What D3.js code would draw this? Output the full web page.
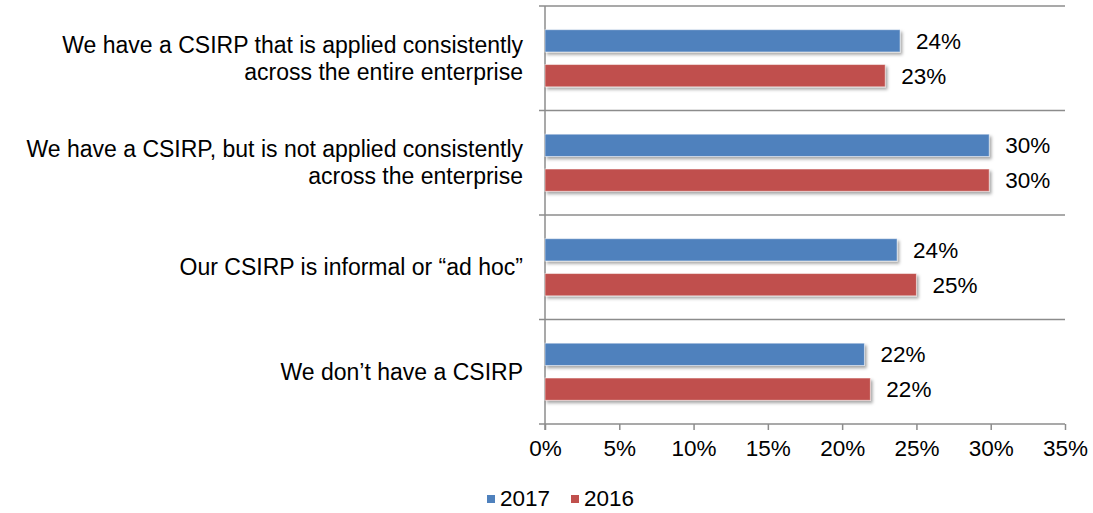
<!DOCTYPE html>
<html>
<head>
<meta charset="utf-8">
<script src="https://cdn.jsdelivr.net/npm/d3@7"></script>
<style>
  html, body { margin: 0; padding: 0; background: #fff; }
  svg { display: block; font-family: "Liberation Sans", Arial, sans-serif; }
</style>
</head>
<body>
<svg id="chart" width="1093" height="513"></svg>
<script>
// Survey responses: incident response plan maturity, 2017 vs 2016
const categories = [
  "We have a CSIRP that is applied consistently\nacross the entire enterprise",
  "We have a CSIRP, but is not applied consistently\nacross the enterprise",
  "Our CSIRP is informal or \u201cad hoc\u201d",
  "We don\u2019t have a CSIRP"
];
const values2017 = [23.9, 29.9, 23.7, 21.5];
const values2016 = [22.9, 29.9, 25.0, 21.9];
const seriesNames = ["2017", "2016"];
const xTicks = [0, 5, 10, 15, 20, 25, 30, 35];

const colors = { "2017": "#4F81BD", "2016": "#C0504D" };
const numSize = 22.5;
const catSize = 23;

const svg = d3.select("#chart");

const plot = { left: 545, right: 1065, top: 6, bottom: 424 };

const x = d3.scaleLinear().domain([0, 35]).range([plot.left, plot.right]);
const y = d3.scaleBand().domain(categories).range([plot.top, plot.bottom]);
const inner = d3.scaleBand().domain(seriesNames)
  .range([0, y.bandwidth()]).paddingInner(0.36).paddingOuter(0.68);

// soft drop shadow under the bars
const defs = svg.append("defs");
const f = defs.append("filter").attr("id", "shadow")
  .attr("x", "-5%").attr("y", "-30%").attr("width", "115%").attr("height", "180%");
f.append("feDropShadow").attr("dx", 2).attr("dy", 2.5)
  .attr("stdDeviation", 1.5).attr("flood-color", "#000").attr("flood-opacity", 0.35);

const gridColor = "#8c8c8c";

// category separators across the plot
const bounds = categories.map(c => y(c));
svg.append("g").selectAll("line").data(bounds).join("line")
  .attr("x1", plot.left - 6).attr("x2", plot.right)
  .attr("y1", d => d).attr("y2", d => d)
  .attr("stroke", gridColor).attr("stroke-width", 1.5);

// value axis
const xAxis = d3.axisBottom(x).tickValues(xTicks)
  .tickFormat(d => d + "%").tickSizeInner(6).tickSizeOuter(0).tickPadding(10);
const gx = svg.append("g").attr("transform", `translate(0,${plot.bottom})`).call(xAxis);
gx.select(".domain").attr("stroke", gridColor).attr("stroke-width", 1.5)
  .attr("d", `M${plot.left - 6},0H${plot.right}`);
gx.selectAll(".tick line").attr("stroke", gridColor).attr("stroke-width", 1.5);
gx.selectAll(".tick text").attr("fill", "#000").attr("font-size", numSize)
  .attr("font-family", "Liberation Sans, Arial, sans-serif");

// category axis line
svg.append("line")
  .attr("x1", plot.left).attr("x2", plot.left)
  .attr("y1", plot.top).attr("y2", plot.bottom + 6)
  .attr("stroke", gridColor).attr("stroke-width", 1.5);

// bars
const rows = categories.map((c, i) => ({
  cat: c,
  items: [
    { s: "2017", v: values2017[i] },
    { s: "2016", v: values2016[i] }
  ]
}));

const groups = svg.append("g").selectAll("g").data(rows).join("g")
  .attr("transform", d => `translate(0,${y(d.cat)})`);

groups.selectAll("rect").data(d => d.items).join("rect")
  .attr("x", x(0))
  .attr("y", d => inner(d.s))
  .attr("width", d => x(d.v) - x(0))
  .attr("height", inner.bandwidth())
  .attr("fill", d => colors[d.s])
  .attr("stroke", "#ffffff").attr("stroke-opacity", 0.5).attr("stroke-width", 1)
  .attr("filter", "url(#shadow)");

groups.selectAll("text.val").data(d => d.items).join("text")
  .attr("class", "val")
  .attr("x", d => x(d.v) + 16)
  .attr("y", d => inner(d.s) + inner.bandwidth() / 2)
  .attr("dy", "0.35em")
  .attr("font-size", numSize)
  .attr("fill", "#000")
  .text(d => Math.round(d.v) + "%");

// category labels
const labels = svg.append("g").selectAll("text").data(categories).join("text")
  .attr("text-anchor", "end")
  .attr("font-size", catSize)
  .attr("fill", "#000")
  .attr("transform", d => `translate(523,${y(d) + y.bandwidth() / 2})`);

labels.each(function(d) {
  const lines = d.split("\n");
  const lh = 27;
  const t = d3.select(this);
  lines.forEach((ln, i) => {
    t.append("tspan").attr("x", 0)
      .attr("y", (i - (lines.length - 1) / 2) * lh)
      .attr("dy", "0.35em").text(ln);
  });
});

// legend
const legend = svg.append("g").attr("transform", "translate(487,498)");
const legendX = [0, 84];
seriesNames.forEach((s, i) => {
  const g = legend.append("g").attr("transform", `translate(${legendX[i]},0)`);
  g.append("rect").attr("x", 0).attr("y", -3).attr("width", 8).attr("height", 8)
    .attr("fill", colors[s]);
  g.append("text").attr("x", 13).attr("y", 0).attr("dy", "0.35em")
    .attr("font-size", numSize).attr("fill", "#000").text(s);
});
</script>
</body>
</html>
